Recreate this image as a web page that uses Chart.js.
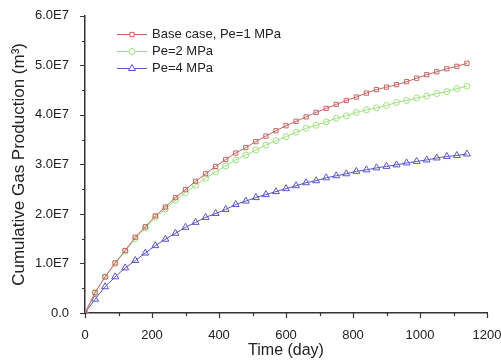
<!DOCTYPE html>
<html>
<head>
<meta charset="utf-8">
<script src="https://cdn.jsdelivr.net/npm/chart.js@4/dist/chart.umd.min.js"></script>
<style>
  html, body { margin: 0; padding: 0; background: #fff; }
  #wrap { position: relative; width: 501px; height: 362px; }
</style>
</head>
<body>
<div id="wrap"><canvas id="c" width="501" height="362"></canvas></div>
<script>
(function () {
  'use strict';

  // time in days
  const days = [0, 30, 60, 90, 120, 150, 180, 210, 240, 270, 300, 330, 360, 390, 420,
    450, 480, 510, 540, 570, 600, 630, 660, 690, 720, 750, 780, 810, 840, 870, 900,
    930, 960, 990, 1020, 1050, 1080, 1110, 1140];

  // cumulative gas production, units of 1E7 m3
  const basePe1 = [0, 0.41, 0.73, 1.01, 1.26, 1.53, 1.74, 1.96, 2.14, 2.33, 2.49, 2.66,
    2.81, 2.96, 3.10, 3.23, 3.34, 3.46, 3.57, 3.68, 3.78, 3.87, 3.96, 4.05, 4.13, 4.21,
    4.29, 4.36, 4.44, 4.51, 4.56, 4.61, 4.67, 4.74, 4.81, 4.87, 4.93, 4.98, 5.04];
  const pe2 = [0, 0.41, 0.73, 1.00, 1.25, 1.50, 1.72, 1.93, 2.10, 2.28, 2.43, 2.58,
    2.72, 2.85, 2.97, 3.09, 3.19, 3.29, 3.39, 3.48, 3.56, 3.65, 3.73, 3.79, 3.86, 3.93,
    3.98, 4.05, 4.10, 4.14, 4.19, 4.25, 4.29, 4.34, 4.38, 4.43, 4.47, 4.53, 4.58];
  const pe4 = [0, 0.28, 0.53, 0.73, 0.91, 1.06, 1.21, 1.36, 1.49, 1.61, 1.73, 1.83,
    1.93, 2.01, 2.09, 2.19, 2.26, 2.33, 2.39, 2.45, 2.51, 2.57, 2.63, 2.67, 2.73, 2.77,
    2.81, 2.86, 2.89, 2.93, 2.96, 2.99, 3.03, 3.06, 3.09, 3.13, 3.16, 3.18, 3.21];

  const seriesNames = ['Base case, Pe=1 MPa', 'Pe=2 MPa', 'Pe=4 MPa'];
  const yTickLabels = ['0.0', '1.0E7', '2.0E7', '3.0E7', '4.0E7', '5.0E7', '6.0E7'];

  const RED = '#c86464';
  const GREEN = '#9fe07f';
  const BLUE = '#5a55c8';
  const AXIS = '#333333';
  const TEXT = '#222222';
  const FONT = '"Liberation Sans", Arial, sans-serif';

  function points(vals) {
    return days.map(function (d, i) { return { x: d, y: vals[i] * 1e7 }; });
  }

  function ds(label, vals, color, style, r) {
    return {
      label: label,
      data: points(vals),
      showLine: true,
      borderColor: color,
      backgroundColor: '#ffffff',
      borderWidth: 1,
      pointStyle: style,
      pointRadius: r,
      pointBorderColor: color,
      pointBackgroundColor: 'rgba(255,255,255,0)',
      pointBorderWidth: 1,
      tension: 0
    };
  }

  // small outward tick marks, majors longer than minors
  const tickMarks = {
    id: 'tickMarks',
    afterDraw: function (chart) {
      const ctx = chart.ctx;
      const xs = chart.scales.x;
      const ys = chart.scales.y;
      const bottom = chart.chartArea.bottom;
      const left = chart.chartArea.left;
      ctx.save();
      ctx.strokeStyle = AXIS;
      ctx.lineWidth = 1.2;
      ctx.beginPath();
      for (let v = 0; v <= 1200; v += 100) {
        const px = Math.round(xs.getPixelForValue(v)) + 0.5;
        const len = v % 200 === 0 ? 5 : 3;
        ctx.moveTo(px, bottom);
        ctx.lineTo(px, bottom + len);
      }
      for (let v = 0; v <= 6e7; v += 0.5e7) {
        const py = Math.round(ys.getPixelForValue(v)) + 0.5;
        const len = Math.round(v / 0.5e7) % 2 === 0 ? 5 : 3;
        ctx.moveTo(left, py);
        ctx.lineTo(left - len, py);
      }
      ctx.stroke();
      ctx.restore();
    }
  };

  // legend drawn inside the plot area, top-left
  const innerLegend = {
    id: 'innerLegend',
    afterDatasetsDraw: function (chart) {
      const ctx = chart.ctx;
      const x0 = 117, x1 = 147, tx = 152;
      const rows = [34, 51, 68];
      ctx.save();
      ctx.font = '13px ' + FONT;
      ctx.textBaseline = 'middle';
      chart.data.datasets.forEach(function (d, i) {
        const y = rows[i] + 0.5;
        ctx.strokeStyle = d.borderColor;
        ctx.lineWidth = 1;
        ctx.beginPath();
        ctx.moveTo(x0, y);
        ctx.lineTo(x1, y);
        ctx.stroke();
        ctx.fillStyle = '#fff';
        Chart.helpers.drawPoint(ctx, {
          pointStyle: d.pointStyle, radius: d.pointRadius, rotation: 0, borderWidth: 1
        }, (x0 + x1) / 2, y);
        ctx.fillStyle = TEXT;
        ctx.fillText(d.label, tx, y);
      });
      ctx.restore();
    }
  };

  new Chart(document.getElementById('c'), {
    type: 'scatter',
    data: {
      datasets: [
        ds(seriesNames[0], basePe1, RED, 'rect', 3),
        ds(seriesNames[1], pe2, GREEN, 'circle', 3),
        ds(seriesNames[2], pe4, BLUE, 'triangle', 4)
      ]
    },
    options: {
      responsive: false,
      animation: false,
      layout: { padding: { top: 14, right: 14, left: 9, bottom: 0 } },
      plugins: {
        legend: { display: false },
        tooltip: { enabled: false }
      },
      scales: {
        x: {
          type: 'linear',
          min: 0,
          max: 1200,
          grid: { display: false },
          border: { display: true, color: AXIS, width: 1.5 },
          ticks: {
            stepSize: 200,
            padding: 7,
            color: TEXT,
            font: { family: FONT, size: 13 },
            maxRotation: 0,
            callback: function (v) { return String(v); }
          },
          title: {
            display: true,
            text: 'Time (day)',
            color: TEXT,
            font: { family: FONT, size: 16 },
            padding: { top: 0, bottom: 2 }
          },
          afterFit: function (s) { s.height = 49; s.paddingRight = 0; }
        },
        y: {
          min: 0,
          max: 6e7,
          grid: { display: false },
          border: { display: true, color: AXIS, width: 1.5 },
          ticks: {
            stepSize: 1e7,
            padding: 8,
            color: TEXT,
            font: { family: FONT, size: 13 },
            callback: function (v) { return yTickLabels[Math.round(v / 1e7)]; }
          },
          title: {
            display: true,
            text: 'Cumulative Gas Production (m\u00b3)',
            color: TEXT,
            font: { family: FONT, size: 17 },
            padding: { top: 0, bottom: 4 }
          },
          afterFit: function (s) { s.width = 76; }
        }
      }
    },
    plugins: [tickMarks, innerLegend]
  });
})();
</script>
</body>
</html>
